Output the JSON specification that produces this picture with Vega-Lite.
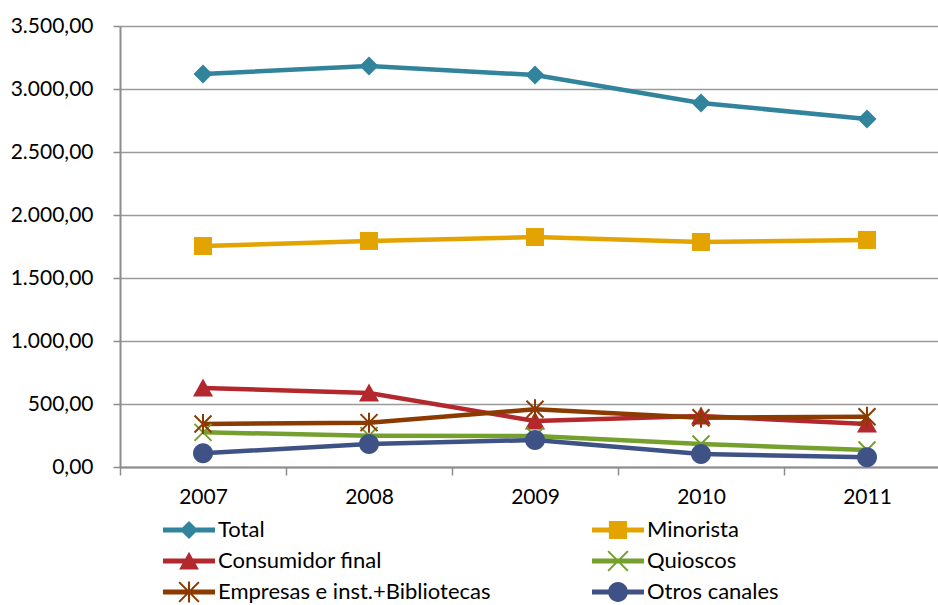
{
  "$schema": "https://vega.github.io/schema/vega-lite/v6.json",
  "autosize": "none",
  "width": 818,
  "height": 441,
  "padding": {"left": 120, "top": 26, "right": 0, "bottom": 138},
  "config": {
    "locale": {"number": {"decimal": ",", "thousands": ".", "grouping": [3], "currency": ["", " €"]}},
    "view": {"stroke": null},
    "font": "Lato",
    "axis": {"labelFont": "Lato", "labelColor": "#000000", "labelFontSize": 21, "title": null, "domainColor": "#8c8c8c", "domainWidth": 2, "tickColor": "#8c8c8c", "tickWidth": 1.5}
  },
  "data": {"values": [
    {"year": "2007", "series": "Total", "value": 3119},
    {"year": "2008", "series": "Total", "value": 3183},
    {"year": "2009", "series": "Total", "value": 3111},
    {"year": "2010", "series": "Total", "value": 2889},
    {"year": "2011", "series": "Total", "value": 2762},
    {"year": "2007", "series": "Minorista", "value": 1754},
    {"year": "2008", "series": "Minorista", "value": 1794},
    {"year": "2009", "series": "Minorista", "value": 1825},
    {"year": "2010", "series": "Minorista", "value": 1786},
    {"year": "2011", "series": "Minorista", "value": 1802},
    {"year": "2007", "series": "Consumidor final", "value": 627},
    {"year": "2008", "series": "Consumidor final", "value": 587},
    {"year": "2009", "series": "Consumidor final", "value": 365},
    {"year": "2010", "series": "Consumidor final", "value": 405},
    {"year": "2011", "series": "Consumidor final", "value": 341},
    {"year": "2007", "series": "Quioscos", "value": 275},
    {"year": "2008", "series": "Quioscos", "value": 249},
    {"year": "2009", "series": "Quioscos", "value": 246},
    {"year": "2010", "series": "Quioscos", "value": 183},
    {"year": "2011", "series": "Quioscos", "value": 135},
    {"year": "2007", "series": "Empresas e inst.+Bibliotecas", "value": 341},
    {"year": "2008", "series": "Empresas e inst.+Bibliotecas", "value": 352},
    {"year": "2009", "series": "Empresas e inst.+Bibliotecas", "value": 458},
    {"year": "2010", "series": "Empresas e inst.+Bibliotecas", "value": 391},
    {"year": "2011", "series": "Empresas e inst.+Bibliotecas", "value": 399},
    {"year": "2007", "series": "Otros canales", "value": 109},
    {"year": "2008", "series": "Otros canales", "value": 183},
    {"year": "2009", "series": "Otros canales", "value": 214},
    {"year": "2010", "series": "Otros canales", "value": 103},
    {"year": "2011", "series": "Otros canales", "value": 77}
  ]},
  "encoding": {
    "x": {"field": "year", "type": "ordinal", "bandPosition": 0.5,
      "scale": {"type": "band", "range": [0, 830], "paddingInner": 0, "paddingOuter": 0},
      "axis": {"labelAngle": 0, "tickBand": "extent", "tickSize": 8, "labelPadding": 11, "grid": false}},
    "y": {"field": "value", "type": "quantitative",
      "scale": {"domain": [0, 3500], "nice": false},
      "axis": {"values": [0, 500, 1000, 1500, 2000, 2500, 3000, 3500], "format": ",.2f", "tickSize": 7, "labelPadding": 20, "grid": true, "gridColor": "#9a9a9a", "gridWidth": 1.5}}
  },
  "layer": [
    {
      "mark": {"type": "line", "strokeWidth": 4.5},
      "encoding": {
        "color": {"field": "series", "type": "nominal", "legend": null,
          "scale": {"domain": ["Total", "Minorista", "Consumidor final", "Quioscos", "Empresas e inst.+Bibliotecas", "Otros canales"],
            "range": ["#31849B", "#E3A300", "#B3282D", "#76A02E", "#8B3A00", "#3F5286"]}}
      }
    },
    {
      "mark": {"type": "point", "filled": true, "opacity": 1, "size": 400, "strokeWidth": 0},
      "encoding": {
        "color": {"field": "series", "type": "nominal", "legend": null,
          "scale": {"domain": ["Total", "Minorista", "Consumidor final", "Quioscos", "Empresas e inst.+Bibliotecas", "Otros canales"],
            "range": ["#31849B", "#E3A300", "#B3282D", "#76A02E", "#8B3A00", "#3F5286"]}},
        "shape": {"field": "series", "type": "nominal", "legend": null,
          "scale": {"domain": ["Total", "Minorista", "Consumidor final", "Quioscos", "Empresas e inst.+Bibliotecas", "Otros canales"],
            "range": [
              "M0,-0.95L0.95,0L0,0.95L-0.95,0Z",
              "M-0.9,-0.9L0.9,-0.9L0.9,0.9L-0.9,0.9Z",
              "M0,-0.95L1,0.85L-1,0.85Z",
              "M-0.78,-0.92L0.92,0.78L0.78,0.92L-0.92,-0.78Z M0.78,-0.92L0.92,-0.78L-0.78,0.92L-0.92,0.78Z",
              "M-0.78,-0.92L0.92,0.78L0.78,0.92L-0.92,-0.78Z M0.78,-0.92L0.92,-0.78L-0.78,0.92L-0.92,0.78Z M-0.1,-1L0.1,-1L0.1,1L-0.1,1Z",
              "M-1,0A1,1,0,1,1,1,0A1,1,0,1,1,-1,0Z"
            ]}}
      }
    },
    {
      "transform": [{"filter": "datum.value < 0"}],
      "mark": {"type": "point", "filled": true, "opacity": 1, "size": 2704, "strokeWidth": 0},
      "encoding": {
        "color": {"field": "series", "type": "nominal",
          "scale": {"domain": ["Total", "Consumidor final", "Empresas e inst.+Bibliotecas", "Minorista", "Quioscos", "Otros canales"],
            "range": ["#31849B", "#B3282D", "#8B3A00", "#E3A300", "#76A02E", "#3F5286"]},
          "legend": {"title": null, "orient": "none", "legendX": 43, "legendY": 489, "columns": 2, "columnPadding": 101, "rowPadding": 1, "clipHeight": 30, "padding": 0,
            "symbolSize": 2704, "symbolStrokeWidth": 0, "symbolOpacity": 1, "labelOffset": 3, "labelFont": "Lato", "labelFontSize": 22, "labelColor": "#000000", "labelLimit": 400}},
        "shape": {"field": "series", "type": "nominal",
          "scale": {"domain": ["Total", "Consumidor final", "Empresas e inst.+Bibliotecas", "Minorista", "Quioscos", "Otros canales"],
            "range": [
              "M-1,-0.096L1,-0.096L1,0.096L-1,0.096Z M0,-0.35L0.35,0L0,0.35L-0.35,0Z",
              "M-1,-0.096L1,-0.096L1,0.096L-1,0.096Z M0,-0.36L0.38,0.33L-0.38,0.33Z",
              "M-1,-0.096L1,-0.096L1,0.096L-1,0.096Z M-0.352,-0.408L0.408,0.352L0.352,0.408L-0.408,-0.352Z M0.352,-0.408L0.408,-0.352L-0.352,0.408L-0.408,0.352Z M-0.04,-0.4L0.04,-0.4L0.04,0.4L-0.04,0.4Z",
              "M-1,-0.096L1,-0.096L1,0.096L-1,0.096Z M-0.35,-0.35L0.35,-0.35L0.35,0.35L-0.35,0.35Z",
              "M-1,-0.096L1,-0.096L1,0.096L-1,0.096Z M-0.352,-0.408L0.408,0.352L0.352,0.408L-0.408,-0.352Z M0.352,-0.408L0.408,-0.352L-0.352,0.408L-0.408,0.352Z",
              "M-1,-0.096L1,-0.096L1,0.096L-1,0.096Z M-0.38,0A0.38,0.38,0,1,1,0.38,0A0.38,0.38,0,1,1,-0.38,0Z"
            ]}}
      }
    }
  ],
  "resolve": {"scale": {"color": "independent", "shape": "independent"}}
}
